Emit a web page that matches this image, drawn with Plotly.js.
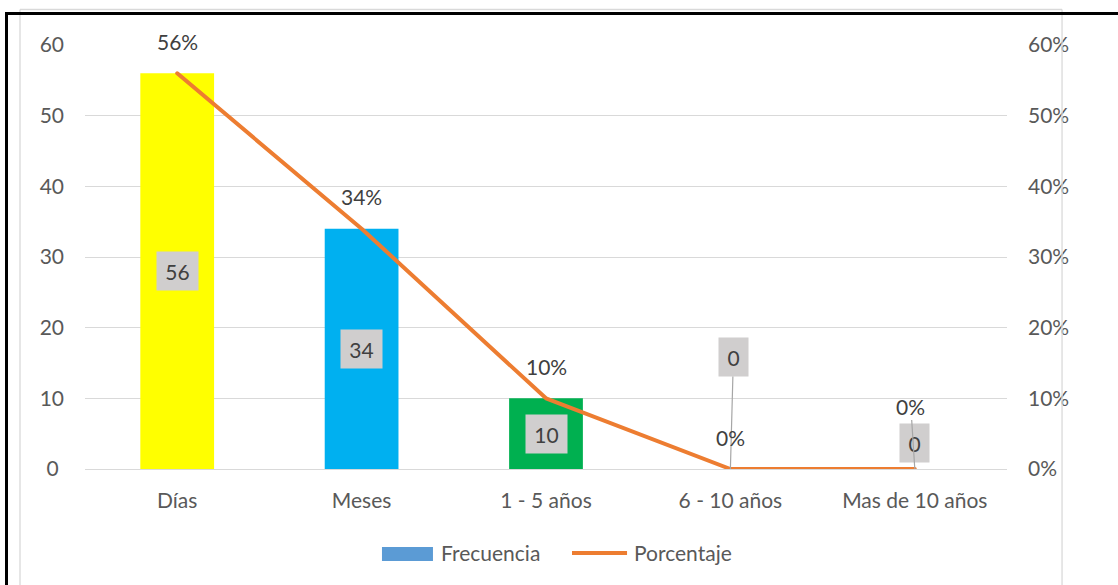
<!DOCTYPE html>
<html>
<head>
<meta charset="utf-8">
<script src="https://cdn.plot.ly/plotly-3.0.1.min.js"></script>
<style>
  html, body { margin: 0; padding: 0; background: #ffffff; overflow: hidden; }
  #wrap { position: relative; width: 1118px; height: 585px; overflow: hidden; }
  #chart { position: absolute; left: 0; top: 0; width: 1118px; height: 585px; }
  /* outer frame: left and top edges only */
  #frame {
    position: absolute; left: 5px; top: 12px; width: 1200px; height: 700px;
    border-left: 3px solid #000; border-top: 3px solid #000;
    pointer-events: none;
  }
</style>
</head>
<body>
<div id="wrap">
  <div id="chart"></div>
  <div id="frame"></div>
</div>
<script>
// Tiempo: frecuencia y porcentaje por categoría
const categories = ['Días', 'Meses', '1 - 5 años', '6 - 10 años', 'Mas de 10 años'];
const frecuencia = [56, 34, 10, 0, 0];
const porcentaje = [0.56, 0.34, 0.10, 0, 0];
const barColors = ['#FFFF00', '#00B0F0', '#00B050', '#A5A5A5', '#FFC000'];
const leftTickVals = [0, 10, 20, 30, 40, 50, 60];
const leftTickLabels = ['0', '10', '20', '30', '40', '50', '60'];
const rightTickVals = [0, 0.1, 0.2, 0.3, 0.4, 0.5, 0.6];
const rightTickLabels = ['0%', '10%', '20%', '30%', '40%', '50%', '60%'];
const seriesNames = ['Frecuencia', 'Porcentaje'];

const FONT = 'Lato, "Liberation Sans", sans-serif';
const TXT = '#595959';
const LBL = '#404040';
const FS = 21;

// pad single-digit labels so the column reads centred
const leftText = leftTickLabels.map(t => t.length === 1 ? t + '\u2005' : t);

// offsets (px) for the value boxes and percentage labels
const barLabelOffset = [null, null, null, {ax: 3, ay: -112}, {ax: 0, ay: -26, noArrow: true}];
const pctLabelOffset = [null, null, null, null, {ax: -4, ay: -63}];

const traces = [
  {
    type: 'bar',
    x: categories,
    y: frecuencia,
    name: seriesNames[0],
    marker: {color: barColors},
    width: 0.4,
    showlegend: false,
    hoverinfo: 'x+y'
  },
  {
    type: 'scatter',
    mode: 'lines',
    x: categories,
    y: porcentaje,
    yaxis: 'y2',
    name: seriesNames[1],
    line: {color: '#ED7D31', width: 4},
    showlegend: false
  }
];

const annotations = [];

// value boxes on the bars
categories.forEach((c, i) => {
  const v = frecuencia[i];
  const off = barLabelOffset[i];
  const txt = String(v);
  const a = {
    x: c, y: v / 2, xref: 'x', yref: 'y',
    text: txt,
    font: {family: FONT, size: FS, color: LBL},
    bgcolor: '#D0CECE',
    borderpad: 0,
    width: txt.length > 1 ? 41 : 29,
    height: 38,
    showarrow: false
  };
  if (off) {
    if (off.noArrow) {
      a.xshift = off.ax; a.yshift = -off.ay;
    } else {
      a.showarrow = true; a.arrowhead = 0; a.arrowwidth = 1.2;
      a.arrowcolor = '#A6A6A6'; a.ax = off.ax; a.ay = off.ay; a.standoff = 0;
    }
  }
  annotations.push(a);
});

// percentage labels on the line
categories.forEach((c, i) => {
  const off = pctLabelOffset[i];
  const a = {
    x: c, y: porcentaje[i], xref: 'x', yref: 'y2',
    text: Math.round(porcentaje[i] * 100) + '%',
    font: {family: FONT, size: FS, color: LBL},
    showarrow: false,
    yshift: 32
  };
  if (off) {
    a.yshift = 0;
    a.showarrow = true; a.arrowhead = 0; a.arrowwidth = 1.2;
    a.arrowcolor = '#A6A6A6'; a.ax = off.ax; a.ay = off.ay; a.standoff = 0;
  }
  annotations.push(a);
});

// legend
const legendY = -0.198;
annotations.push({
  xref: 'paper', yref: 'paper', x: 0.3839, y: legendY,
  xanchor: 'left', yanchor: 'middle', showarrow: false,
  text: seriesNames[0], font: {family: FONT, size: FS, color: TXT}
});
annotations.push({
  xref: 'paper', yref: 'paper', x: 0.5933, y: legendY,
  xanchor: 'left', yanchor: 'middle', showarrow: false,
  text: seriesNames[1], font: {family: FONT, size: FS, color: TXT}
});

const shapes = [
  // legend swatches
  {type: 'rect', xref: 'paper', yref: 'paper', x0: 0.3221, x1: 0.3774, y0: -0.2170, y1: -0.1840,
   fillcolor: '#5B9BD5', line: {width: 0}},
  {type: 'line', xref: 'paper', yref: 'paper', x0: 0.5282, x1: 0.5879, y0: legendY, y1: legendY,
   line: {color: '#ED7D31', width: 4}},
  // chart area border (left, top, right)
  {type: 'line', xref: 'paper', yref: 'paper', x0: -0.0705, x1: -0.0705, y0: -0.40, y1: 1.0837,
   line: {color: '#D9D9D9', width: 1.3}},
  {type: 'line', xref: 'paper', yref: 'paper', x0: -0.0705, x1: 1.0597, y0: 1.0837, y1: 1.0837,
   line: {color: '#D9D9D9', width: 1.3}},
  {type: 'line', xref: 'paper', yref: 'paper', x0: 1.0597, x1: 1.0597, y0: -0.40, y1: 1.0837,
   line: {color: '#D9D9D9', width: 1.3}}
];

const layout = {
  width: 1118,
  height: 585,
  margin: {l: 85, r: 111, t: 45, b: 116},
  paper_bgcolor: '#ffffff',
  plot_bgcolor: '#ffffff',
  showlegend: false,
  barmode: 'overlay',
  font: {family: FONT, size: FS, color: TXT},
  xaxis: {
    type: 'category',
    showgrid: false,
    showline: false,
    zeroline: false,
    ticks: '',
    ticklabelstandoff: 17,
    tickfont: {family: FONT, size: FS, color: TXT}
  },
  yaxis: {
    range: [0, 60],
    tickvals: leftTickVals,
    ticktext: leftText,
    showgrid: true,
    gridcolor: '#D9D9D9',
    gridwidth: 1,
    zeroline: true,
    zerolinecolor: '#D9D9D9',
    zerolinewidth: 1,
    showline: false,
    ticks: '',
    ticklabelstandoff: 20,
    tickfont: {family: FONT, size: FS, color: TXT},
    fixedrange: true
  },
  yaxis2: {
    overlaying: 'y',
    side: 'right',
    range: [0, 0.6],
    tickvals: rightTickVals,
    ticktext: rightTickLabels,
    showgrid: false,
    zeroline: false,
    showline: false,
    ticks: '',
    ticklabelstandoff: 20,
    tickfont: {family: FONT, size: FS, color: TXT},
    fixedrange: true
  },
  annotations: annotations,
  shapes: shapes
};

Plotly.newPlot('chart', traces, layout, {displayModeBar: false, staticPlot: true}).then(gd => {
  // rounded ends on the percentage line
  gd.querySelectorAll('.scatterlayer path.js-line').forEach(p => {
    p.style.strokeLinecap = 'round';
    p.style.strokeLinejoin = 'round';
  });
});
</script>
</body>
</html>
